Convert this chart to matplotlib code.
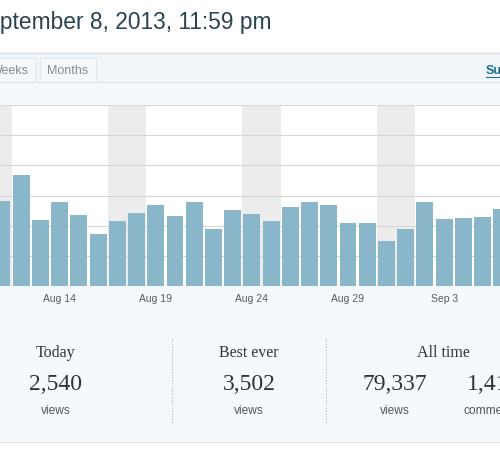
import matplotlib
matplotlib.use("Agg")
import matplotlib.pyplot as plt
import pandas as pd
from matplotlib.patches import Rectangle

# daily views, visible part of the chart (Aug 11 - Sep 6, 2013)
first_day = "2013-08-11"
views = [2810, 3670, 2200, 2770, 2360, 1710, 2160, 2430, 2680, 2310,
         2770, 1880, 2510, 2380, 2160, 2610, 2800, 2690, 2080, 2100,
         1490, 1890, 2770, 2230, 2270, 2300, 2560]
tick_labels = ["Aug 14", "Aug 19", "Aug 24", "Aug 29", "Sep 3"]
y_grid = [1000, 2000, 3000, 4000, 5000, 6000]

title = "September 8, 2013, 11:59 pm"
tabs = ["Weeks", "Months"]
stat_titles = ["Today", "Best ever", "All time"]
stat_numbers = ["2,540", "3,502", "79,337", "1,418"]
stat_units = ["views", "views", "views", "comments"]

W, H = 500, 451
fig = plt.figure(figsize=(W / 100, H / 100), dpi=100)
fig.patch.set_facecolor("white")

# page background drawn in pixel coords
bg = fig.add_axes([0, 0, 1, 1])
bg.set_xlim(0, W)
bg.set_ylim(H, 0)
bg.axis("off")

sans = "Liberation Sans"
serif = "Liberation Serif"

bg.text(272, 29, title, ha="right", va="baseline", fontsize=16.4,
        family=sans, color="#2a4350")

# stats box
bg.add_patch(Rectangle((-5, 52), W + 10, 389, fc="#f6f9fc", ec="none"))
bg.add_patch(Rectangle((-5, 52), W + 10, 29, fc="#eff5f9", ec="none"))
bg.plot([0, W], [52.5, 52.5], color="#dbe3e8", lw=1)
bg.plot([0, W], [81.5, 81.5], color="#dde5ea", lw=1)
bg.plot([0, W], [441.5, 441.5], color="#dde3e7", lw=1)

# tabs
bg.add_patch(Rectangle((-30, 57.5), 65, 24, fc="#f6f9fb", ec="#e1e7eb", lw=0.8))
bg.add_patch(Rectangle((40, 57.5), 56, 24, fc="#f6f9fb", ec="#e1e7eb", lw=0.8))
bg.text(28.5, 71, tabs[0], ha="right", va="center", fontsize=9,
        family=sans, color="#8a8a8a")
bg.text(68, 71, tabs[1], ha="center", va="center", fontsize=9,
        family=sans, color="#8a8a8a")
bg.text(486, 71, "Summaries", ha="left", va="center", fontsize=9,
        family=sans, color="#1f6f8e", weight="bold")
bg.plot([486, 560], [77, 77], color="#1f6f8e", lw=0.8)

# summary numbers
bg.text(56, 353, stat_titles[0], ha="center", va="center", fontsize=11.5,
        family=serif, color="#333333")
bg.text(249, 353, stat_titles[1], ha="center", va="center", fontsize=11.5,
        family=serif, color="#333333")
bg.text(443, 353, stat_titles[2], ha="center", va="center", fontsize=11.5,
        family=serif, color="#333333")
num_x = [56, 249, 395, 467]
for i, (n, u) in enumerate(zip(stat_numbers, stat_units)):
    ha = "left" if i == 3 else "center"
    bg.text(num_x[i], 385, n, ha=ha, va="center", fontsize=17,
            family=serif, color="#333333")
    ux = 463 if i == 3 else num_x[i]
    bg.text(ux, 410.5, u, ha=ha, va="center", fontsize=8.6,
            family=sans, color="#555555")
for sx in [172.3, 326.3]:
    bg.plot([sx, sx], [338, 423], color="#b5b5b5", lw=0.8, ls=(0, (1, 1.5)))

# bar chart
days = pd.date_range(first_day, periods=len(views), freq="D")
x = list(range(len(views)))
ax = fig.add_axes([0, 1 - 286 / H, 1, 181 / H])
ax.set_facecolor("white")
for k, d in enumerate(days):
    if d.dayofweek >= 5:
        ax.axvspan(k - 0.5, k + 0.5, color="#ececec", lw=0, zorder=0)
for g in y_grid:
    ax.axhline(g, color="#d6d6d6", lw=0.8, zorder=1)
ax.bar(x, views, width=0.88, color="#89b6c9", zorder=2)

labels = [d.strftime("%b ") + str(d.day) for d in days]
ax.set_xticks([labels.index(t) for t in tick_labels])
ax.set_xticklabels(tick_labels, fontsize=7.5, family=sans, color="#5a5a5a")
ax.tick_params(axis="x", length=0, pad=5.5)
ax.set_yticks([])
ax.set_xlim(-0.104, 25.91)
ax.set_ylim(0, 6000)
for s in ax.spines.values():
    s.set_visible(False)

fig.savefig("out.png", dpi=100)
